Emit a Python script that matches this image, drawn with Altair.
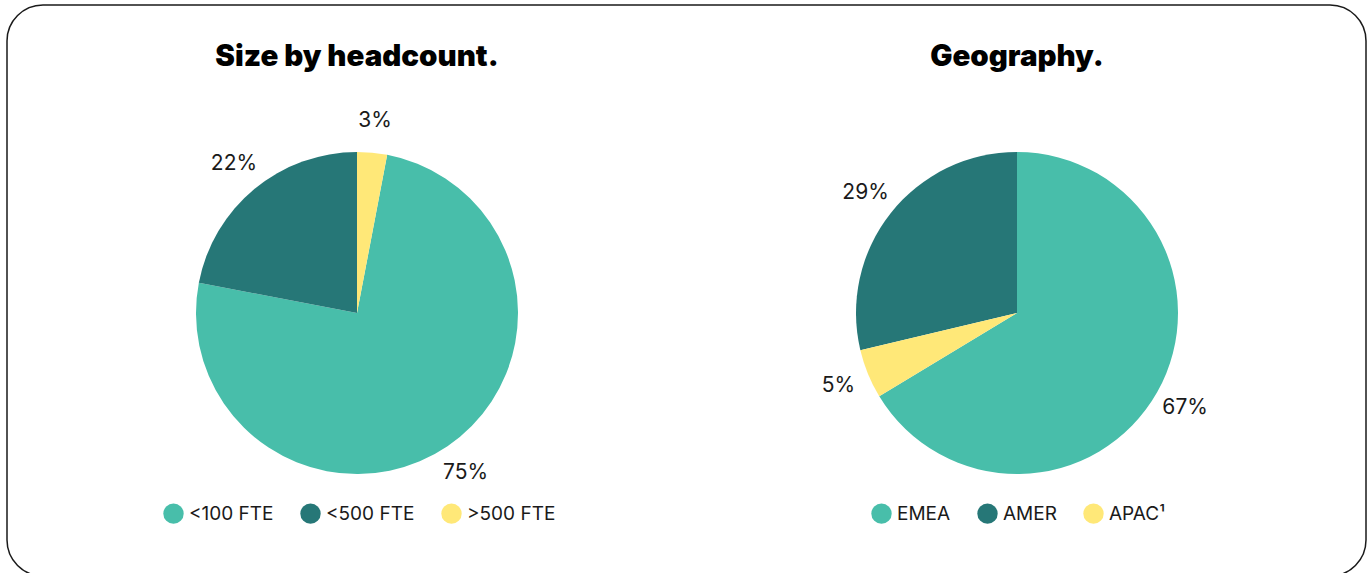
import altair as alt
import pandas as pd

# ---- data ----
panels = ["size", "geo"]
titles = ["Size by headcount.", "Geography."]

size_categories = ["<100 FTE", "<500 FTE", ">500 FTE"]
size_values = [75, 22, 3]
size_order = [2, 3, 1]          # clockwise drawing order from 12 o'clock

geo_categories = ["EMEA", "AMER", "APAC\u00b9"]
geo_values = [67, 29, 5]
geo_order = [1, 3, 2]

colors = ["#48BEAA", "#267777", "#FFE878"]

rows = []
for c, v, o in zip(size_categories, size_values, size_order):
    rows.append({"panel": "size", "cat": c, "value": v, "ord": o, "label": f"{v}%"})
for c, v, o in zip(geo_categories, geo_values, geo_order):
    rows.append({"panel": "geo", "cat": c, "value": v, "ord": o, "label": f"{v}%"})
df = pd.DataFrame(rows)
tdf = pd.DataFrame({"panel": panels, "title": titles})

FONT = "Inter"
TXT = "#1a1a1a"
W, H = 1371, 573
CY = 313
R = 161

xs = alt.X("panel:N", scale=alt.Scale(type="point", domain=panels, range=[357, 1017], padding=0), axis=None)


def pie(panel, cats, legend_x):
    base = alt.Chart(df).transform_filter(alt.datum.panel == panel)
    arcs = base.mark_arc(outerRadius=R).encode(
        x=xs,
        y=alt.value(CY),
        theta=alt.Theta("value:Q", stack=True),
        order=alt.Order("ord:Q"),
        color=alt.Color(
            "cat:N",
            scale=alt.Scale(domain=cats, range=colors),
            legend=alt.Legend(
                title=None,
                orient="none",
                direction="horizontal",
                legendX=legend_x,
                legendY=503,
                symbolType="circle",
                symbolSize=415,
                symbolStrokeWidth=0,
                labelFont=FONT,
                labelFontSize=19,
                labelColor=TXT,
                labelOffset=5,
                columnPadding=26,
                padding=0,
            ),
        ),
        tooltip=["cat:N", "value:Q"],
    )
    labels = base.mark_text(radius=193, font=FONT, fontSize=21, color=TXT).encode(
        x=xs,
        y=alt.value(CY),
        theta=alt.Theta("value:Q", stack=True),
        order=alt.Order("ord:Q"),
        text="label:N",
    )
    return alt.layer(arcs, labels).resolve_scale(color="independent")


p1 = pie("size", size_categories, 163)
p2 = pie("geo", geo_categories, 871)

title_layer = alt.Chart(tdf).mark_text(
    font=FONT, fontSize=29.5, fontWeight=900, color="#000000", baseline="alphabetic"
).encode(x=xs, y=alt.value(66), text="title:N")

frame = alt.Chart(alt.Data(values=[{}])).mark_rect(
    fill="transparent", stroke="#1a1a1a", strokeWidth=1.5, cornerRadius=36
).encode(x=alt.value(7), x2=alt.value(1366), y=alt.value(5), y2=alt.value(576))

chart = (
    alt.layer(frame, p1, p2, title_layer)
    .resolve_scale(color="independent", theta="independent")
    .properties(width=W, height=H, padding=0, autosize=alt.AutoSizeParams(type="none"),
                background="white")
    .configure_view(strokeWidth=0)
)

chart.save("out.html", embed_options={"renderer": "svg", "actions": False})
